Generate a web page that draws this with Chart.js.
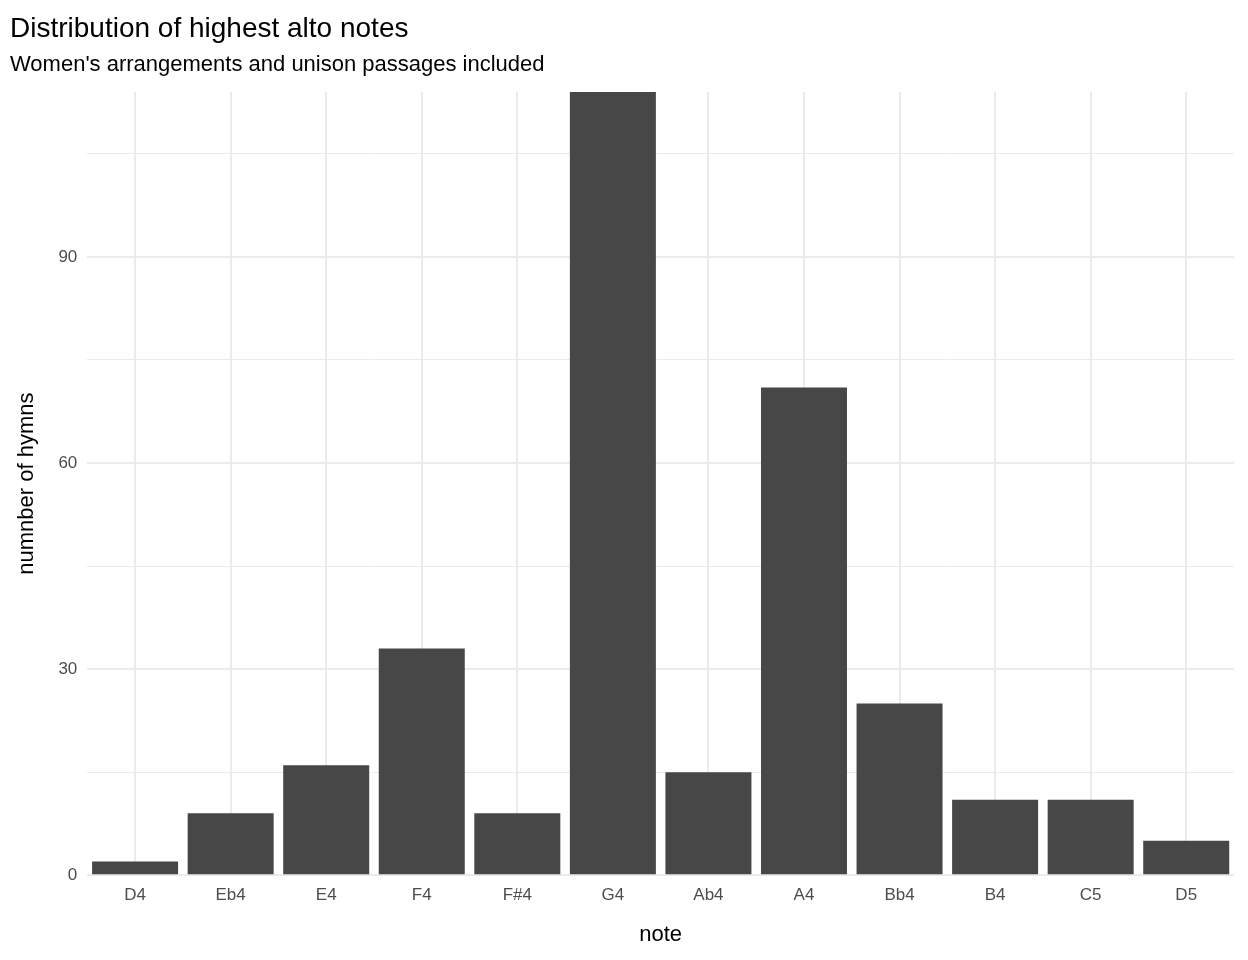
<!DOCTYPE html>
<html>
<head>
<meta charset="utf-8">
<script src="https://cdn.jsdelivr.net/npm/chart.js@4"></script>
<style>
  html, body { margin: 0; padding: 0; background: #fff; }
  #wrap { width: 1248px; height: 960px; }
</style>
</head>
<body>
<div id="wrap"><canvas id="chart"></canvas></div>
<script>
const notes = ["D4", "Eb4", "E4", "F4", "F#4", "G4", "Ab4", "A4", "Bb4", "B4", "C5", "D5"]
const hymnCounts = [2, 9, 16, 33, 9, 114, 15, 71, 25, 11, 11, 5]
const yTicks = [0, 30, 60, 90]

Chart.defaults.font.family = "Liberation Sans, Arial, sans-serif"

new Chart(document.getElementById("chart"), {
  type: "bar",
  data: {
    labels: notes,
    datasets: [{
      data: hymnCounts,
      backgroundColor: "#474747",
      barPercentage: 0.9,
      categoryPercentage: 1
    }]
  },
  options: {
    responsive: true,
    maintainAspectRatio: false,
    animation: false,
    layout: { padding: { left: 10, right: 14, top: 0, bottom: 8 } },
    plugins: {
      legend: { display: false },
      tooltip: { enabled: false },
      title: {
        display: true,
        text: "Distribution of highest alto notes",
        align: "start",
        color: "#000",
        font: { size: 28, weight: "normal" },
        padding: { top: 12, bottom: 6 }
      },
      subtitle: {
        display: true,
        text: "Women's arrangements and unison passages included",
        align: "start",
        color: "#000",
        font: { size: 22 },
        padding: { bottom: 14 }
      }
    },
    scales: {
      x: {
        offset: true,
        grid: { color: "#ebebeb", lineWidth: 2, drawTicks: false, offset: false },
        border: { display: false },
        ticks: { color: "#4d4d4d", font: { size: 17 }, padding: 10 },
        title: { display: true, text: "note", color: "#000", font: { size: 22 }, padding: { top: 6 } }
      },
      y: {
        min: 0,
        max: 114,
        grid: {
          color: ctx => "#ebebeb",
          lineWidth: ctx => (yTicks.includes(ctx.tick.value) ? 2 : 1),
          drawTicks: false
        },
        border: { display: false },
        afterBuildTicks: axis => {
          axis.ticks = [0, 15, 30, 45, 60, 75, 90, 105].map(v => ({ value: v }))
        },
        ticks: {
          color: "#4d4d4d",
          font: { size: 17 },
          padding: 10,
          callback: v => (yTicks.includes(v) ? v : "")
        },
        title: { display: true, text: "numnber of hymns", color: "#000", font: { size: 22 }, padding: { bottom: 8 } }
      }
    }
  }
})
</script>
</body>
</html>
